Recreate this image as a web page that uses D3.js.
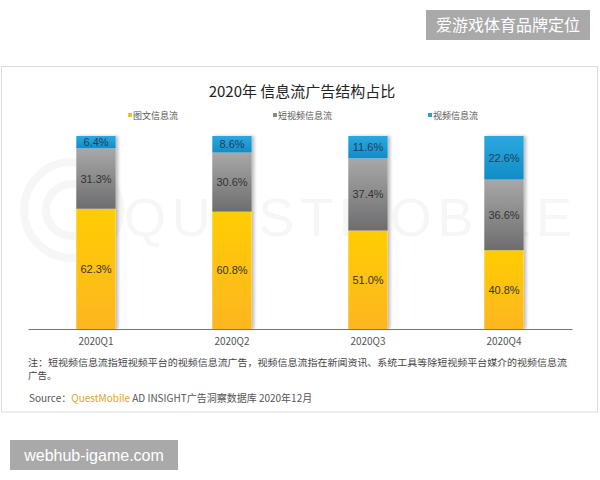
<!DOCTYPE html>
<html>
<head>
<meta charset="utf-8">
<script src="https://cdn.jsdelivr.net/npm/d3@7"></script>
<style>
  body { margin: 0; background: #fff; }
  svg { display: block; font-family: "Noto Sans CJK SC", "Liberation Sans", sans-serif; }
</style>
</head>
<body>
<div id="chart"></div>
<script>
// données
var quarters = ["2020Q1", "2020Q2", "2020Q3", "2020Q4"];
var seriesNames = ["图文信息流", "短视频信息流", "视频信息流"];
var tuwen = [62.3, 60.8, 51.0, 40.8];
var duanshipin = [31.3, 30.6, 37.4, 36.6];
var shipin = [6.4, 8.6, 11.6, 22.6];
var noteLines = [
    "注：短视频信息流指短视频平台的视频信息流广告，视频信息流指在新闻资讯、系统工具等除短视频平台媒介的视频信息流",
    "广告。"
];

const width = 600, height = 480;
const margins = { left: 28, right: 28, top: 136, bottom: 151 };

var svg = d3.select("#chart").append("svg")
    .attr("width", width).attr("height", height);

var defs = svg.append("defs");
var grads = [
    { id: "gYellow", top: "#ffcd02", bottom: "#fdb620" },
    { id: "gGrey", top: "#a8a8a8", bottom: "#6d6d6f" },
    { id: "gBlue", top: "#2ba8df", bottom: "#138cc6" }
];
grads.forEach(function (g) {
    var lg = defs.append("linearGradient").attr("id", g.id)
        .attr("x1", 0).attr("y1", 0).attr("x2", 0).attr("y2", 1);
    lg.append("stop").attr("offset", "0%").attr("stop-color", g.top);
    lg.append("stop").attr("offset", "100%").attr("stop-color", g.bottom);
});
var shadow = defs.append("filter").attr("id", "shadow")
    .attr("x", "-20%").attr("y", "-5%").attr("width", "150%").attr("height", "110%");
shadow.append("feDropShadow").attr("dx", 2.5).attr("dy", 0)
    .attr("stdDeviation", 1.5).attr("flood-color", "#000").attr("flood-opacity", 0.25);

// bandeau en haut à droite
svg.append("rect").attr("x", 426).attr("y", 10).attr("width", 164).attr("height", 30).attr("fill", "#a9a9a9");
svg.append("text").attr("x", 508).attr("y", 31).attr("text-anchor", "middle")
    .attr("fill", "#fff").style("font-size", "16px").text("爱游戏体育品牌定位");

// cadre
svg.append("rect").attr("x", 1.5).attr("y", 66.5).attr("width", 596).attr("height", 345.5)
    .attr("fill", "#fff").attr("stroke", "#dcdcdc");

// filigrane (très pâle)
var wm = svg.append("g").attr("fill", "none").attr("stroke", "#f6f6f6").attr("stroke-width", 8);
wm.append("circle").attr("cx", 72).attr("cy", 210).attr("r", 48);
wm.append("circle").attr("cx", 72).attr("cy", 210).attr("r", 26);
svg.append("text").attr("x", 124).attr("y", 236).attr("fill", "#f6f6f6")
    .style("font-family", "Liberation Sans, sans-serif").style("font-size", "54px")
    .attr("textLength", 448).attr("lengthAdjust", "spacing")
    .text("QUESTMOBILE");

// titre
svg.append("text").attr("x", 302).attr("y", 97).attr("text-anchor", "middle")
    .attr("fill", "#222").style("font-size", "15px").text("2020年 信息流广告结构占比");

// légende
var legendX = [128, 273, 428];
var legendColor = ["#f2c02a", "#8a8a8a", "#2a9fd0"];
var legend = svg.selectAll(".legend").data(seriesNames).enter().append("g")
    .attr("class", "legend")
    .attr("transform", (d, i) => "translate(" + legendX[i] + ",115)");
legend.append("rect").attr("x", 0).attr("y", -2).attr("width", 4).attr("height", 4)
    .attr("fill", (d, i) => legendColor[i]);
legend.append("text").attr("x", 5).attr("y", 3.5).attr("fill", "#555")
    .style("font-size", "9px").text(d => d);

var scaleX = d3.scaleBand()
    .domain(quarters)
    .range([margins.left, width - margins.right])
    .paddingInner(0.71)
    .paddingOuter(0.355);

var scaleY = d3.scaleLinear()
    .domain([0, 100])
    .range([height - margins.bottom, margins.top]);

var rows = quarters.map(function (q, i) {
    return { q: q, vals: [tuwen[i], duanshipin[i], shipin[i]] };
});
var stack = d3.stack().keys([0, 1, 2]).value((d, k) => d.vals[k]);
var layers = stack(rows);

var fills = ["url(#gYellow)", "url(#gGrey)", "url(#gBlue)"];

var barG = svg.append("g");
barG.selectAll(".shadowbar").data(rows).enter().append("rect")
    .attr("x", d => scaleX(d.q))
    .attr("y", scaleY(100))
    .attr("width", scaleX.bandwidth())
    .attr("height", scaleY(0) - scaleY(100))
    .attr("fill", "#fff")
    .attr("filter", "url(#shadow)");

layers.forEach(function (layer, k) {
    barG.selectAll(".bars" + k).data(layer).enter().append("rect")
        .attr("class", "bars" + k)
        .attr("x", d => scaleX(d.data.q))
        .attr("y", d => scaleY(d[1]))
        .attr("width", scaleX.bandwidth())
        .attr("height", d => scaleY(d[0]) - scaleY(d[1]))
        .attr("fill", fills[k]);
    barG.selectAll(".lab" + k).data(layer).enter().append("text")
        .attr("x", d => scaleX(d.data.q) + scaleX.bandwidth() / 2)
        .attr("y", d => (scaleY(d[0]) + scaleY(d[1])) / 2 + 4)
        .attr("text-anchor", "middle")
        .attr("fill", k == 2 ? "#1f3f5a" : "#333")
        .style("font-family", "Liberation Sans, Arial, sans-serif")
        .style("font-size", "11px")
        .text(d => d.data.vals[k].toFixed(1) + "%");
});

// axe x
var axisX = d3.axisBottom(scaleX).tickSize(0).tickPadding(9);
var gx = svg.append("g")
    .attr("transform", "translate(0," + scaleY(0) + ")")
    .call(axisX);
gx.select(".domain").attr("stroke", "#777").attr("stroke-width", 1.2);
gx.selectAll("text").attr("fill", "#555")
    .style("font-family", "Noto Sans CJK SC, sans-serif").style("font-size", "10px");

// note et source
svg.selectAll(".note").data(noteLines).enter().append("text")
    .attr("class", "note")
    .attr("x", 28).attr("y", (d, i) => 366 + i * 12.5)
    .attr("fill", "#444").style("font-size", "9.5px")
    .attr("textLength", (d, i) => i == 0 ? 539 : null)
    .attr("lengthAdjust", "spacingAndGlyphs")
    .text(d => d);

var src = svg.append("text").attr("x", 29).attr("y", 402).attr("fill", "#555").style("font-size", "10px");
src.append("tspan").text("Source：");
src.append("tspan").attr("fill", "#e3a22e").text("QuestMobile");
src.append("tspan").text(" AD INSIGHT广告洞察数据库 2020年12月");

// bandeau en bas à gauche
svg.append("rect").attr("x", 10).attr("y", 440).attr("width", 168).attr("height", 30).attr("fill", "#a9a9a9");
svg.append("text").attr("x", 94).attr("y", 461).attr("text-anchor", "middle")
    .attr("fill", "#fff").style("font-family", "Liberation Sans, sans-serif")
    .style("font-size", "16px").text("webhub-igame.com");
</script>
</body>
</html>
